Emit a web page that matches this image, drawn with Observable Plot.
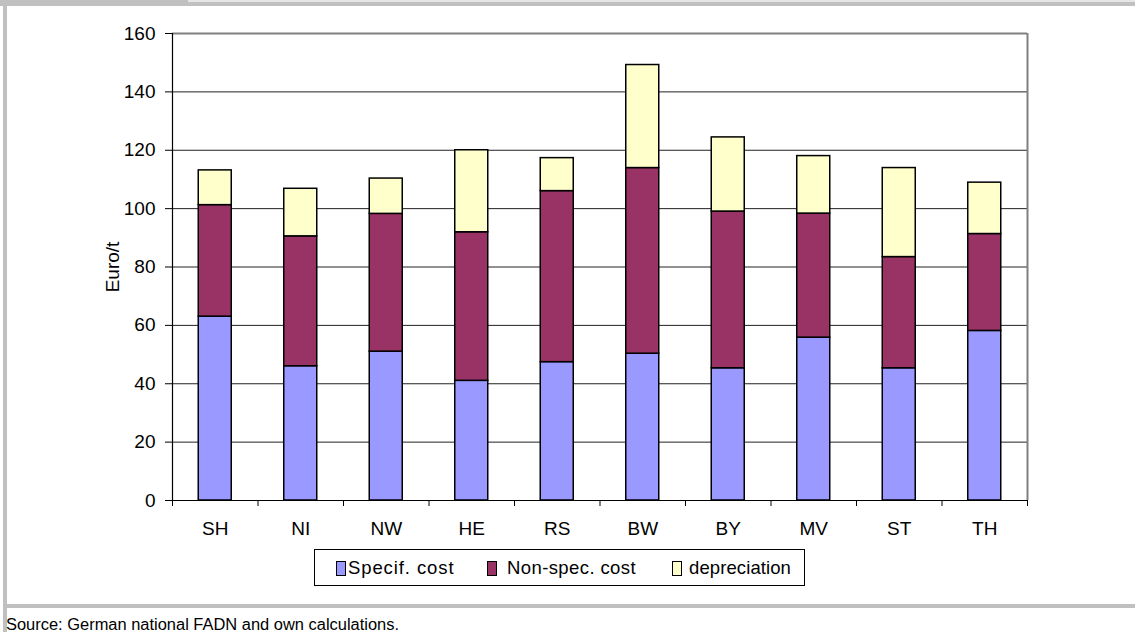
<!DOCTYPE html>
<html>
<head>
<meta charset="utf-8">
<script src="https://cdn.jsdelivr.net/npm/d3@7"></script>
<script src="https://cdn.jsdelivr.net/npm/@observablehq/plot@0.6"></script>
<style>
  html, body { margin: 0; padding: 0; background: #fff; }
  #wrap { position: relative; width: 1135px; height: 632px; overflow: hidden; font-family: "Liberation Sans", Arial, sans-serif; }
  #wrap svg.plot { position: absolute; left: 0; top: 0; }
  .frame { position: absolute; background: #c0c0c0; }
  #legend { position: absolute; left: 314px; top: 549px; width: 489px; height: 35px; border: 1px solid #000; background: #fff; }
  .item { position: absolute; top: 0; height: 35px; font-size: 18.5px; line-height: 35px; color: #000; white-space: nowrap; }
  .sw { position: absolute; top: 11px; width: 8px; height: 13px; border: 1px solid #000; }
  #source { position: absolute; left: 0; top: 608px; }
</style>
</head>
<body>
<div id="wrap">
  <div class="frame" style="left:0;top:0;width:1135px;height:6px;"></div>
  <div class="frame" style="left:188px;top:0;width:947px;height:2px;background:#e6e6e6;"></div>
  <div class="frame" style="left:3px;top:0;width:4px;height:632px;"></div>
  <div class="frame" style="left:3px;top:604px;width:1132px;height:4px;"></div>
  <div id="legend"></div>
  <svg id="source" width="420" height="24"><text x="6" y="22" font-family="Liberation Sans, Arial, sans-serif" font-size="16" textLength="393" lengthAdjust="spacingAndGlyphs" fill="#000">Source: German national FADN and own calculations.</text></svg>
</div>
<script>
// ---- data ----
const regions = ["SH", "NI", "NW", "HE", "RS", "BW", "BY", "MV", "ST", "TH"];
const seriesNames = ["Specif. cost", "Non-spec. cost", "depreciation"];
const seriesColors = ["#9999FF", "#993366", "#FFFFCC"];
const specifCost = [63.0, 46.0, 51.0, 41.0, 47.4, 50.3, 45.3, 55.8, 45.3, 58.1];
const nonSpecCost = [38.2, 44.5, 47.2, 50.9, 58.6, 63.6, 53.7, 42.5, 38.1, 33.2];
const depreciation = [11.9, 16.3, 12.1, 28.1, 11.3, 35.3, 25.4, 19.7, 30.5, 17.6];
const yTicks = [0, 20, 40, 60, 80, 100, 120, 140, 160];
const yLabel = "Euro/t";

const seriesValues = [specifCost, nonSpecCost, depreciation];
const rows = [];
seriesNames.forEach((s, si) => {
  regions.forEach((r, ri) => rows.push({region: r, series: s, value: seriesValues[si][ri]}));
});

const W = 1135, H = 632;
const mL = 172, mR = 108, mT = 33, mB = 132;
const step = (W - mL - mR) / regions.length;
const half = step / 2;

const plot = Plot.plot({
  width: W,
  height: H,
  marginLeft: mL,
  marginRight: mR,
  marginTop: mT,
  marginBottom: mB,
  style: {fontFamily: "Liberation Sans, Arial, sans-serif", fontSize: "19px", color: "#000", background: "transparent"},
  x: {domain: regions, paddingInner: 0.614, paddingOuter: 0.307, round: false, label: null},
  y: {domain: [0, 160], label: null},
  color: {domain: seriesNames, range: seriesColors},
  marks: [
    Plot.gridY(yTicks.filter(d => d > 0 && d < 160), {stroke: "#222", strokeOpacity: 1, strokeWidth: 1}),
    Plot.ruleY([160], {stroke: "#808080", strokeWidth: 2}),
    Plot.ruleX([regions[regions.length - 1]], {dx: half, stroke: "#808080", strokeWidth: 2}),
    Plot.barY(rows, {x: "region", y: "value", fill: "series", stroke: "#000", strokeWidth: 1.5}),
    Plot.ruleY([0], {stroke: "#000", strokeWidth: 1.2}),
    Plot.ruleX([regions[0]], {dx: -half, stroke: "#000", strokeWidth: 1.2}),
    // category boundary ticks below the axis
    Plot.ruleX(regions, {x: d => d, dx: -half, y1: 0, y2: 0, insetBottom: -6, stroke: "#000", strokeWidth: 1}),
    Plot.ruleX([regions[regions.length - 1]], {x: d => d, dx: half, y1: 0, y2: 0, insetBottom: -6, stroke: "#000", strokeWidth: 1}),
    Plot.axisX({tickSize: 0, tickPadding: 21, fontSize: 19, label: null}),
    Plot.axisY({ticks: yTicks, tickSize: 7, tickPadding: 10, fontSize: 19, stroke: "#000", label: null}),
    Plot.text([yLabel], {frameAnchor: "left", textAnchor: "middle", dx: -60, rotate: -90, fontSize: 19, fill: "#000"})
  ]
});
plot.classList.add("plot");
document.getElementById("wrap").prepend(plot);

// legend
const legend = document.getElementById("legend");
const swX = [21, 172, 357];
const txtX = [33, 192, 374];
const spacing = ["0.9px", "0.4px", "0.1px"];
seriesNames.forEach((s, i) => {
  const sw = document.createElement("div");
  sw.className = "sw";
  sw.style.left = swX[i] + "px";
  sw.style.background = seriesColors[i];
  legend.appendChild(sw);
  const t = document.createElement("div");
  t.className = "item";
  t.style.left = txtX[i] + "px";
  t.style.letterSpacing = spacing[i];
  t.textContent = s;
  legend.appendChild(t);
});
</script>
</body>
</html>
